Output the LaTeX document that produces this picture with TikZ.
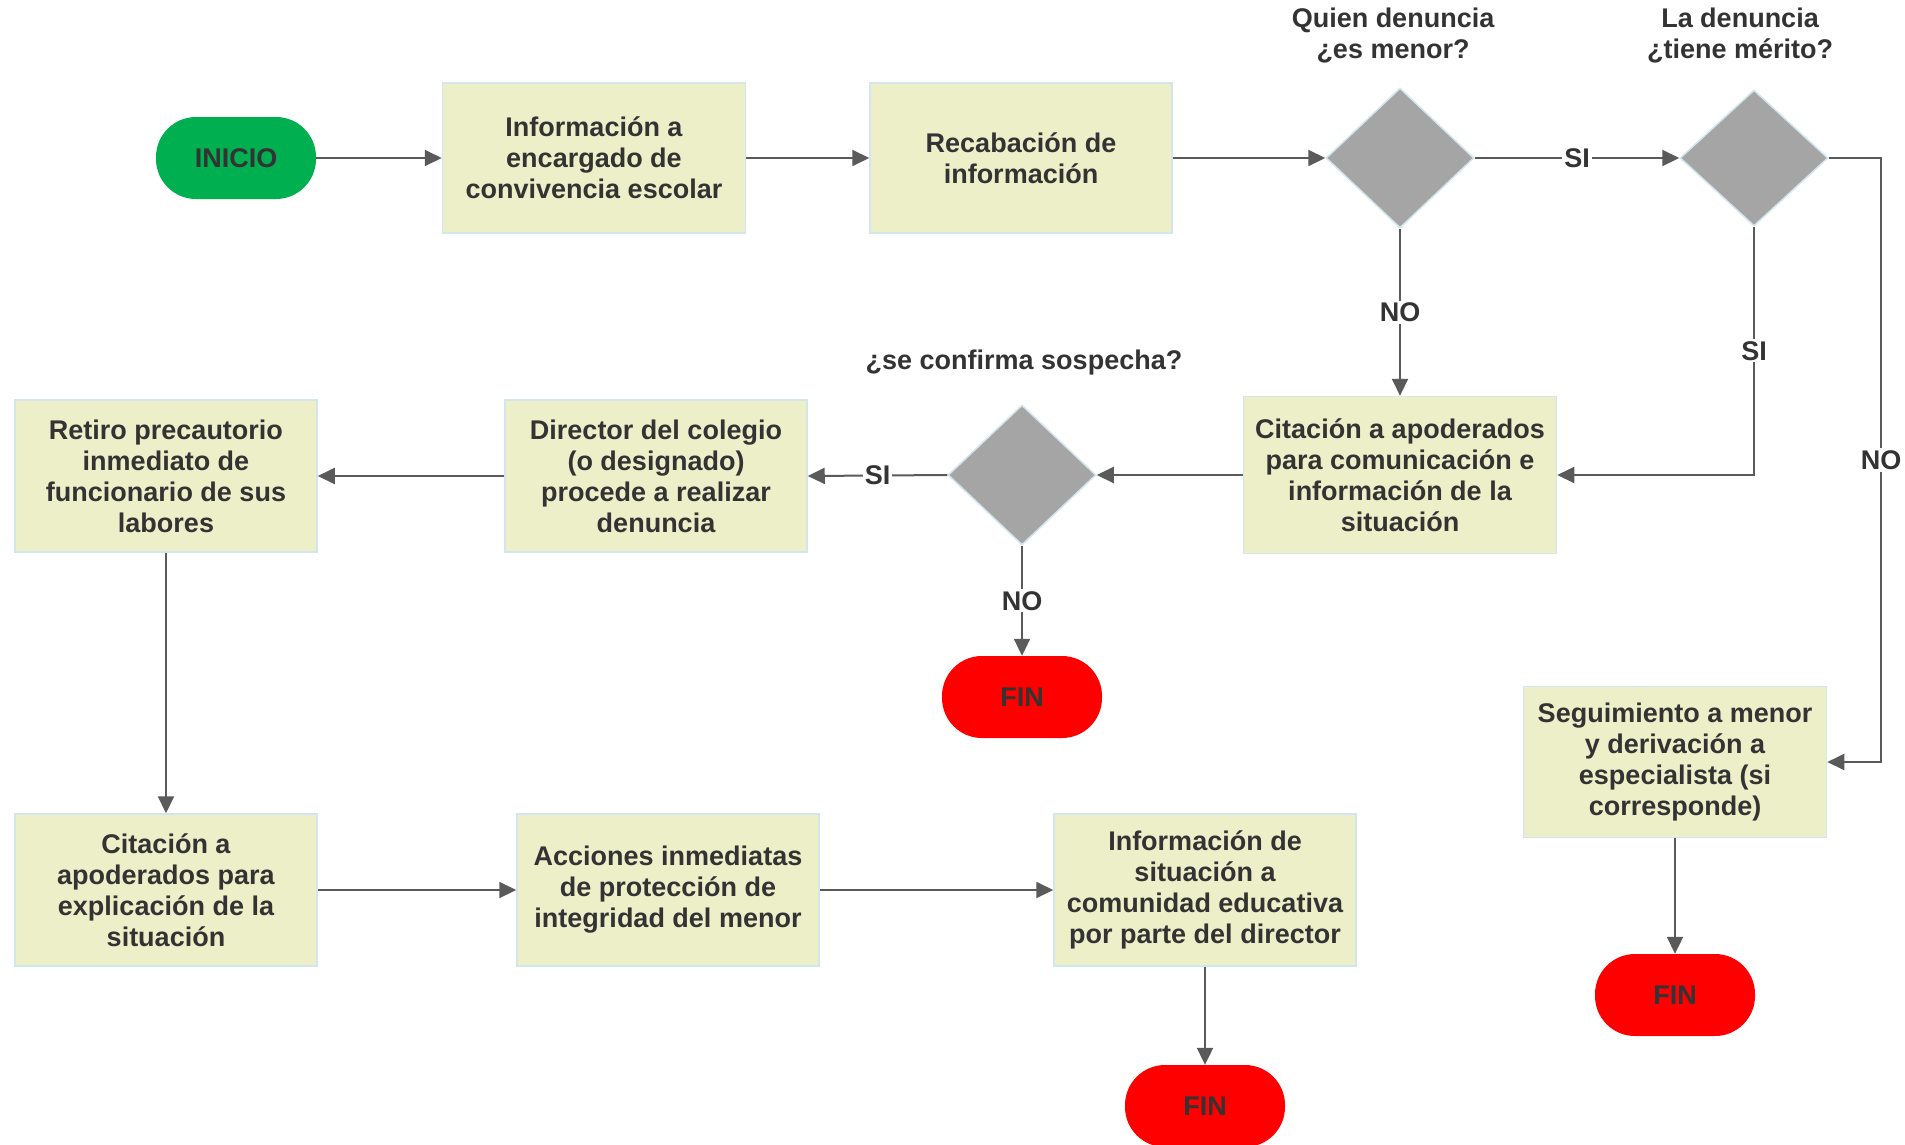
\documentclass[tikz,border=0pt]{standalone}
\usepackage{fontspec}
\setmainfont{Liberation Sans}
\usetikzlibrary{shapes.geometric,arrows.meta}
\definecolor{boxfill}{HTML}{EDEFC9}
\definecolor{boxline}{HTML}{D3E6EE}
\definecolor{dfill}{HTML}{A5A5A5}
\definecolor{txt}{HTML}{333333}
\definecolor{conn}{HTML}{5A5A5A}
\definecolor{startg}{HTML}{00B050}
\definecolor{endr}{HTML}{FF0000}
\begin{document}
\begin{tikzpicture}[x=1pt,y=-1pt,
  every node/.style={font=\fontsize{27}{31}\selectfont\bfseries, text=txt},
  procbox/.style={rectangle, fill=boxfill, draw=boxline, line width=1.5pt, align=center, minimum width=302pt, minimum height=152pt, inner sep=2pt},
  decis/.style={diamond, fill=dfill, draw=boxline, line width=1.5pt, minimum width=148pt, minimum height=140pt, inner sep=0pt},
  term/.style={rectangle, rounded corners=40pt, minimum width=160pt, minimum height=82pt, inner sep=0pt},
  qlabel/.style={align=center, inner sep=0pt},
  lbl/.style={fill=white, inner sep=2pt},
  flow/.style={draw=conn, line width=2pt, -{Triangle[length=17pt,width=16pt]}},
  plain/.style={draw=conn, line width=2pt}
]
\useasboundingbox (0,0) rectangle (1905,1144);
\fill[white] (0,0) rectangle (1905,1144);

\node[term, fill=startg] (ini) at (236,158) {INICIO};
\node[procbox, minimum width=303pt, minimum height=150pt] (b1) at (594,158) {Información a\\encargado de\\convivencia escolar};
\node[procbox, minimum height=150pt] (b2) at (1021,158) {Recabación de\\información};
\node[decis] (d1) at (1400,158) {};
\node[decis, minimum height=136pt] (d2) at (1754,158) {};
\node[qlabel] (q1) at (1393,36) {Quien denuncia\\¿es menor?};
\node[qlabel] (q2) at (1740,36) {La denuncia\\¿tiene mérito?};

\node[procbox, minimum width=313pt, minimum height=157pt] (cit) at (1400,475) {Citación a apoderados\\para comunicación e\\información de la\\situación};
\node[decis] (d3) at (1022,475) {};
\node[qlabel] (q3) at (1024,363) {¿se confirma sospecha?};
\node[procbox] (dir) at (656,476) {Director del colegio\\(o designado)\\procede a realizar\\denuncia};
\node[procbox] (ret) at (166,476) {Retiro precautorio\\inmediato de\\funcionario de sus\\labores};
\node[term, fill=endr] (fin1) at (1022,697) {FIN};

\node[procbox] (cit2) at (166,890) {Citación a\\apoderados para\\explicación de la\\situación};
\node[procbox] (acc) at (668,890) {Acciones inmediatas\\de protección de\\integridad del menor};
\node[procbox] (inf) at (1205,890) {Información de\\situación a\\comunidad educativa\\por parte del director};
\node[term, fill=endr] (fin3) at (1205,1106) {FIN};

\node[procbox, minimum width=303pt, minimum height=151pt] (seg) at (1675,762) {Seguimiento a menor\\y derivación a\\especialista (si\\corresponde)};
\node[term, fill=endr] (fin2) at (1675,995) {FIN};

\coordinate (c1) at (1881,158);
\coordinate (c2) at (1881,762);

\draw[flow] (ini) -- (b1);
\draw[flow] (b1) -- (b2);
\draw[flow] (b2) -- (d1.west);
\draw[flow] (d1.east) -- node[lbl]{SI} (d2.west);
\draw[flow] (d1.south) -- node[lbl]{NO} (cit.north);
\draw[flow] (d2.south) |- node[lbl, pos=0.25]{SI} (cit.east);
\draw[flow] (d2.east) -- (c1) -- node[lbl]{NO} (c2) -- (seg.east);
\draw[flow] (cit.west) -- (d3.east);
\draw[flow] (d3.west) -- node[lbl]{SI} (dir.east);
\draw[flow] (d3.south) -- node[lbl]{NO} (fin1.north);
\draw[flow] (dir.west) -- (ret.east);
\draw[flow] (ret.south) -- (cit2.north);
\draw[flow] (cit2.east) -- (acc.west);
\draw[flow] (acc.east) -- (inf.west);
\draw[flow] (inf.south) -- (fin3.north);
\draw[flow] (seg.south) -- (fin2.north);
\end{tikzpicture}
\end{document}
